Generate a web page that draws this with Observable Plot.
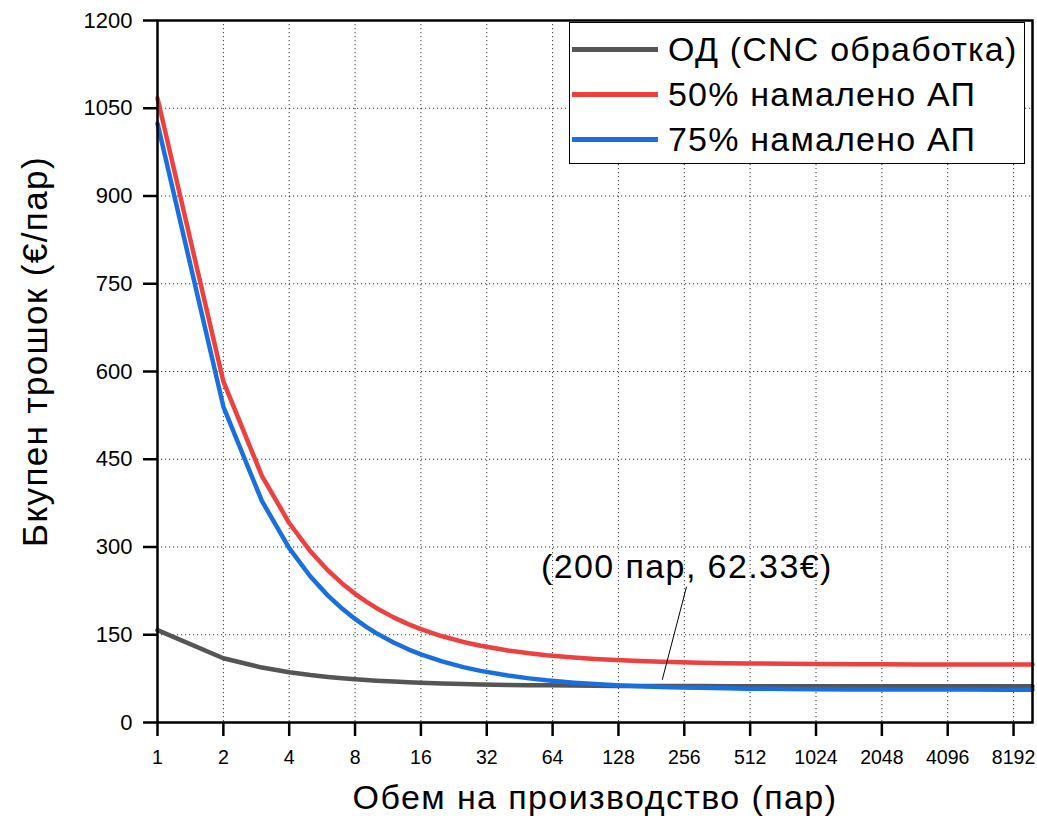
<!DOCTYPE html>
<html>
<head>
<meta charset="utf-8">
<script src="https://cdn.jsdelivr.net/npm/d3@7"></script>
<script src="https://cdn.jsdelivr.net/npm/@observablehq/plot@0.6"></script>
<style>
  body { margin: 0; background: #fff; }
  #wrap { position: relative; width: 1037px; height: 821px; font-family: "Liberation Sans", Arial, sans-serif; }
  #legend { position: absolute; left: 569px; top: 22px; width: 456px; height: 142px; border: 1px solid #000; background: #fff; box-sizing: border-box; }
  .row { position: absolute; left: 0; height: 44px; display: flex; align-items: center; }
  .swatch { width: 86px; height: 5px; margin-left: 2px; margin-right: 10px; }
  .lab { font-size: 34px; letter-spacing: 1.2px; color: #000; white-space: nowrap; line-height: 44px; }
</style>
</head>
<body>
<div id="wrap"></div>
<script>
// ---- data ----
const volumes = [1,2,3,4,5,6,7,8,9,10,12,14,16,20,25,30,40,50,60,80,100,125,150,200,250,300,400,500,750,1000,1500,2000,3000,5000,7500,10000];
const costOD  = [157.9,109.9,93.9,85.9,81.1,77.9,75.6,73.9,72.5,71.5,69.9,68.7,67.9,66.7,65.7,65.1,64.3,63.8,63.5,63.1,62.8,62.6,62.5,62.33,62.2,62.2,62.1,62.0,62.0,61.9,61.9,61.9,61.9,61.9,61.9,61.9];
const cost50  = [1067,583,421.7,341,292.6,260.3,237.3,220,206.6,195.8,179.7,168.1,159.5,147.4,137.7,131.3,123.2,118.4,115.1,111.1,108.7,106.7,105.5,103.8,102.9,102.2,101.4,100.9,100.3,100.0,99.6,99.5,99.3,99.2,99.1,99.1];
const cost75  = [1024,540,378.7,298,249.6,217.3,194.3,177,163.6,152.8,136.7,125.1,116.5,104.4,94.7,88.3,80.2,75.4,72.1,68.1,65.7,63.7,62.5,60.8,59.9,59.2,58.4,57.9,57.3,57.0,56.6,56.5,56.3,56.2,56.1,56.1];

const seriesNames  = ["ОД (CNC обработка)", "50% намалено АП", "75% намалено АП"];
const seriesColors = ["#555555", "#ef4040", "#1a6fe0"];

const xTicks = [1,2,4,8,16,32,64,128,256,512,1024,2048,4096,8192];
const yTicks = [0,150,300,450,600,750,900,1050,1200];

const xTitle = "Обем на производство (пар)";
const yTitle = "Бкупен трошок (€/пар)";

const annotLabel = ["(200 пар, 62.33€)"];
const annotTextX = [263];
const annotTextY = [266];
const leaderX1 = [203], leaderY1 = [73];
const leaderX2 = [262], leaderY2 = [232];

// ---- build tables ----
const seriesValues = [costOD, cost50, cost75];
const lines = seriesValues.map((vals, s) => volumes.map((v, i) => ({v, c: vals[i], s: seriesNames[s]})));
const annot = annotLabel.map((t, i) => ({t, x: annotTextX[i], y: annotTextY[i]}));
const leader = leaderX1.map((x1, i) => ({x1, y1: leaderY1[i], x2: leaderX2[i], y2: leaderY2[i]}));

const gridStyle = {stroke: "#333", strokeOpacity: 1, strokeWidth: 1, strokeDasharray: "1.2,2.8"};

const chart = Plot.plot({
  width: 1037,
  height: 821,
  marginLeft: 157,
  marginRight: 5,
  marginTop: 20,
  marginBottom: 99,
  x: {type: "log", base: 2, domain: [1, 10000]},
  y: {domain: [0, 1200]},
  style: {fontFamily: "'Liberation Sans', Arial, sans-serif", background: "white", color: "black"},
  marks: [
    Plot.gridX(xTicks, gridStyle),
    Plot.gridY(yTicks, gridStyle),
    ...lines.map((d, s) => Plot.line(d, {x: "v", y: "c", stroke: seriesColors[s], strokeWidth: 4.5, strokeLinejoin: "round"})),
    Plot.link(leader, {x1: "x1", y1: "y1", x2: "x2", y2: "y2", stroke: "black", strokeWidth: 1}),
    Plot.text(annot, {x: "x", y: "y", text: "t", fontSize: 34, textAnchor: "middle", lineAnchor: "middle", fill: "black", className: "big"}),
    Plot.frame({stroke: "black", strokeWidth: 2.5}),
    // tick marks (labels drawn separately below for exact sizing)
    Plot.axisX(xTicks, {tickSize: 14, strokeWidth: 2.5, label: null, tickFormat: () => ""}),
    Plot.axisY(yTicks, {tickSize: 14, strokeWidth: 2.5, label: null, tickFormat: () => ""}),
    // tick labels
    Plot.text(xTicks, {x: d => d, frameAnchor: "bottom", dy: 28, lineAnchor: "top", textAnchor: "middle", fontSize: 19.5, text: d => String(d), fill: "black"}),
    Plot.text(yTicks, {y: d => d, frameAnchor: "left", dx: -25, lineAnchor: "middle", textAnchor: "end", fontSize: 22, text: d => String(d), fill: "black"}),
    // axis titles
    Plot.text([xTitle], {frameAnchor: "bottom", dy: 76, fontSize: 34, textAnchor: "middle", lineAnchor: "middle", text: d => d, fill: "black", className: "big"}),
    Plot.text([yTitle], {frameAnchor: "left", dx: -122, dy: -20, rotate: -90, fontSize: 35, textAnchor: "middle", lineAnchor: "middle", text: d => d, fill: "black", className: "big"})
  ]
});

const wrap = document.getElementById("wrap");
wrap.appendChild(chart);

// widen the large labels slightly, as in the reference
d3.select(chart).selectAll("g.big text").style("letter-spacing", "1.4px");

// legend (inside plot area, upper right)
const legend = document.createElement("div");
legend.id = "legend";
seriesNames.forEach((name, i) => {
  const row = document.createElement("div");
  row.className = "row";
  row.style.top = (4 + i * 45) + "px";
  const sw = document.createElement("div");
  sw.className = "swatch";
  sw.style.background = seriesColors[i];
  const lab = document.createElement("span");
  lab.className = "lab";
  lab.textContent = name;
  row.appendChild(sw);
  row.appendChild(lab);
  legend.appendChild(row);
});
wrap.appendChild(legend);
</script>
</body>
</html>
